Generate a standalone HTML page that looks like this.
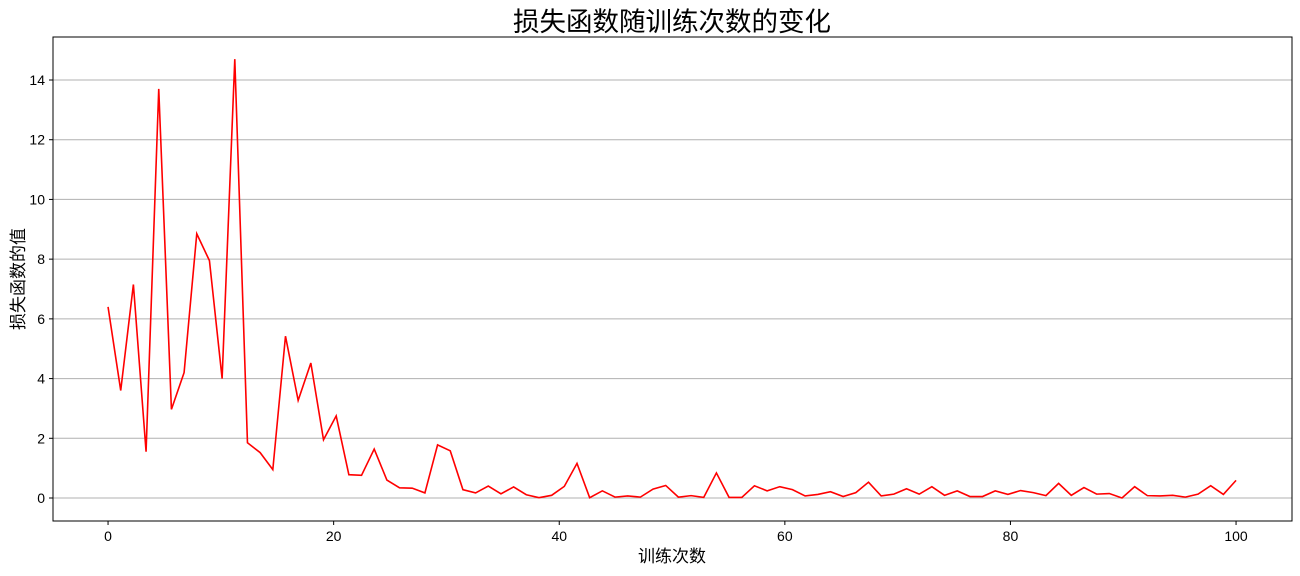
<!DOCTYPE html>
<html><head><meta charset="utf-8"><style>
body{margin:0;background:#fff;}
svg text{font-family:"Liberation Sans","Noto Sans CJK SC",sans-serif;fill:#000;}
</style></head><body>
<svg id="chart" width="1300" height="571" xmlns="http://www.w3.org/2000/svg">
<text x="672" y="31" font-size="26.5" text-anchor="middle">损失函数随训练次数的变化</text>
<g id="grid"></g>
<g id="ticks"></g>
<polyline id="line" fill="none" stroke="#ff0000" stroke-width="1.6"/>
<rect x="53" y="37" width="1239" height="484" fill="none" stroke="#000" stroke-width="1"/>
<text x="672" y="562" font-size="17" text-anchor="middle">训练次数</text>
<text transform="translate(24,279) rotate(-90)" font-size="17" text-anchor="middle">损失函数的值</text>
</svg>
<script>
const lossValues=[6.4,3.6,7.15,1.55,13.7,2.97,4.2,8.85,7.95,4.0,14.7,1.85,1.52,0.95,5.42,3.27,4.52,1.95,2.75,0.78,0.76,1.64,0.6,0.34,0.33,0.17,1.78,1.58,0.28,0.17,0.40,0.14,0.37,0.11,0.01,0.09,0.39,1.16,0.01,0.24,0.03,0.07,0.03,0.30,0.42,0.03,0.08,0.02,0.84,0.02,0.02,0.41,0.24,0.38,0.28,0.07,0.12,0.21,0.05,0.18,0.53,0.07,0.13,0.31,0.13,0.38,0.09,0.24,0.05,0.05,0.24,0.12,0.25,0.18,0.08,0.49,0.09,0.35,0.13,0.15,0.0,0.38,0.08,0.07,0.09,0.03,0.13,0.41,0.12,0.59];
const xTicks=[0,20,40,60,80,100];
const yTicks=[0,2,4,6,8,10,12,14];
const xMax=100;
const L=53,R=1292,T=37,B=521,xMin=-4.88,xMx=104.96,yMin=-0.77,yMx=15.44;
const sx=v=>L+(v-xMin)/(xMx-xMin)*(R-L);
const sy=v=>B-(v-yMin)/(yMx-yMin)*(B-T);
const NS="http://www.w3.org/2000/svg";
const grid=document.getElementById('grid'),ticks=document.getElementById('ticks');
function mk(tag,attrs,parent){const e=document.createElementNS(NS,tag);for(const k in attrs)e.setAttribute(k,attrs[k]);parent.appendChild(e);return e;}
yTicks.forEach(v=>{
  const g=mk('line',{x1:L,x2:R,y1:sy(v),y2:sy(v),stroke:'#b0b0b0','stroke-width':1},grid);
  
  
  mk('line',{x1:L-4,x2:L,y1:sy(v),y2:sy(v),stroke:'#000'},ticks);
  const t=mk('text',{x:L-8,y:sy(v)+5,'font-size':14,'text-anchor':'end'},ticks);
  t.textContent=v;
  
  
});
xTicks.forEach(v=>{
  mk('line',{x1:sx(v),x2:sx(v),y1:B,y2:B+4,stroke:'#000'},ticks);
  const t=mk('text',{x:sx(v),y:B+20,'font-size':14,'text-anchor':'middle'},ticks);
  t.textContent=v;
  
  
});
const n=lossValues.length;
document.getElementById('line').setAttribute('points',lossValues.map((v,i)=>sx(i*xMax/(n-1))+','+sy(v)).join(' '));
</script>
</body></html>
